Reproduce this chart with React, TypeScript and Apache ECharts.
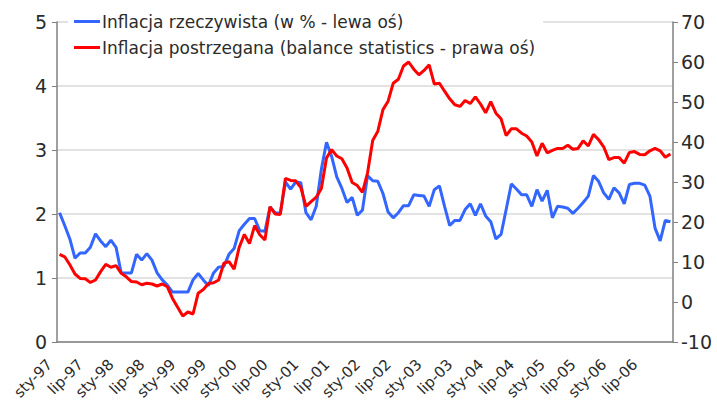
import React, { useEffect, useRef } from "react";
import * as echarts from "echarts";

const MONTHS = ["sty", "lut", "mar", "kwi", "maj", "cze", "lip", "sie", "wrz", "paź", "lis", "gru"];
const YEARS = ["97", "98", "99", "00", "01", "02", "03", "04", "05", "06"];
const categories = YEARS.flatMap((y) => MONTHS.map((m) => `${m}-${y}`));

const seriesNames = [
  "Inflacja rzeczywista (w % - lewa oś)",
  "Inflacja postrzegana (balance statistics - prawa oś)",
];

const actualInflation = [
  2.02, 1.82, 1.61, 1.31, 1.39, 1.39, 1.48, 1.69, 1.58, 1.49, 1.59, 1.48,
  1.08, 1.08, 1.08, 1.37, 1.28, 1.38, 1.28, 1.08, 0.97, 0.89, 0.78, 0.78,
  0.78, 0.78, 0.97, 1.07, 0.97, 0.88, 1.08, 1.17, 1.18, 1.37, 1.46, 1.74,
  1.84, 1.93, 1.93, 1.74, 1.73, 2.11, 2.02, 2.01, 2.5, 2.39, 2.5, 2.49,
  2.02, 1.91, 2.12, 2.7, 3.12, 2.9, 2.58, 2.4, 2.18, 2.26, 1.98, 2.06,
  2.6, 2.52, 2.51, 2.32, 2.03, 1.94, 2.02, 2.13, 2.13, 2.3, 2.29, 2.28,
  2.12, 2.38, 2.44, 2.12, 1.82, 1.9, 1.9, 2.07, 2.16, 1.98, 2.16, 1.97,
  1.88, 1.61, 1.68, 2.07, 2.47, 2.39, 2.3, 2.3, 2.12, 2.38, 2.2, 2.37,
  1.94, 2.12, 2.11, 2.09, 2.01, 2.09, 2.18, 2.28, 2.6, 2.51, 2.33, 2.23,
  2.41, 2.33, 2.16, 2.46, 2.48, 2.48, 2.45, 2.28, 1.78, 1.58, 1.9, 1.88,
];

const perceivedInflation = [
  11.9, 11.3, 9.3, 7.0, 5.9, 5.8, 4.9, 5.5, 7.6, 9.4, 8.7, 9.1,
  7.2, 6.3, 5.1, 5.0, 4.3, 4.7, 4.5, 4.0, 4.5, 3.8, 0.9, -1.3,
  -3.5, -2.5, -3.0, 2.2, 3.1, 4.6, 4.8, 5.5, 9.7, 10.1, 8.2, 13.7,
  16.9, 14.6, 19.1, 16.8, 15.5, 23.8, 22.0, 21.9, 30.9, 30.4, 30.3, 28.6,
  23.9, 25.1, 26.2, 28.4, 36.0, 38.1, 36.5, 35.8, 33.5, 29.9, 29.1, 27.4,
  32.3, 40.4, 42.7, 48.1, 50.2, 54.7, 55.7, 59.0, 60.0, 58.2, 56.8, 57.9,
  59.3, 54.5, 54.7, 52.7, 50.8, 49.3, 48.9, 50.4, 49.6, 51.3, 49.5, 47.3,
  50.1, 47.2, 45.8, 41.6, 43.3, 43.3, 42.2, 41.5, 40.0, 36.5, 39.7, 37.3,
  37.9, 38.4, 38.4, 39.2, 38.2, 38.4, 40.3, 39.0, 41.9, 40.6, 38.8, 35.6,
  36.1, 36.1, 34.7, 37.4, 37.6, 36.9, 36.8, 37.8, 38.4, 37.8, 36.2, 37.0,
];

const FONT = "DejaVu Sans";
const TEXT = "#2b2b2b";
const AXIS = "#808080";

export default function App() {
  const ref = useRef<HTMLDivElement>(null);
  useEffect(() => {
    if (!ref.current) return;
    const chart = echarts.init(ref.current, undefined, { renderer: "svg" });
    chart.setOption({
      animation: false,
      backgroundColor: "#ffffff",
      textStyle: { fontFamily: FONT, color: TEXT },
      grid: { left: 57, right: 44, top: 22, bottom: 63, containLabel: false },
      legend: {
        orient: "vertical",
        left: 68,
        top: 10,
        itemGap: 9,
        itemWidth: 26,
        itemHeight: 3,
        padding: [3, 8, 3, 6],
        backgroundColor: "#ffffff",
        textStyle: { fontFamily: FONT, fontSize: 17, color: TEXT, padding: [0, 0, 0, -3] },
        data: [
          { name: seriesNames[0], icon: "rect" },
          { name: seriesNames[1], icon: "rect" },
        ],
      },
      xAxis: {
        type: "category",
        data: categories,
        boundaryGap: true,
        axisLine: { lineStyle: { color: AXIS, width: 1.5 } },
        axisTick: { interval: 5, length: 5, lineStyle: { color: AXIS, width: 1 } },
        axisLabel: {
          interval: 5,
          rotate: 45,
          margin: 10,
          padding: [0, 14, 0, 0],
          fontFamily: FONT,
          fontSize: 15,
          color: TEXT,
        },
        splitLine: { show: false },
      },
      yAxis: [
        {
          type: "value",
          min: 0,
          max: 5,
          interval: 1,
          axisLine: { show: true, lineStyle: { color: AXIS, width: 1.5 } },
          axisTick: { show: true, length: 5, lineStyle: { color: AXIS } },
          axisLabel: { fontFamily: FONT, fontSize: 19, color: TEXT, margin: 10 },
          splitLine: { show: true, lineStyle: { color: "#d9d9d9", width: 1.5 } },
        },
        {
          type: "value",
          min: -10,
          max: 70,
          interval: 10,
          position: "right",
          axisLine: { show: true, lineStyle: { color: AXIS, width: 1.5 } },
          axisTick: { show: true, length: 5, lineStyle: { color: AXIS } },
          axisLabel: { fontFamily: FONT, fontSize: 19, color: TEXT, margin: 8 },
          splitLine: { show: false },
        },
      ],
      series: [
        {
          name: seriesNames[0],
          type: "line",
          yAxisIndex: 0,
          data: actualInflation,
          symbol: "none",
          color: "#3366ff",
          lineStyle: { color: "#3366ff", width: 3 },
        },
        {
          name: seriesNames[1],
          type: "line",
          yAxisIndex: 1,
          data: perceivedInflation,
          symbol: "none",
          color: "#ff0000",
          lineStyle: { color: "#ff0000", width: 3 },
        },
      ],
    });
    return () => chart.dispose();
  }, []);
  return <div ref={ref} style={{ width: 717, height: 405, position: "absolute", left: 0, top: 0 }} />;
}
